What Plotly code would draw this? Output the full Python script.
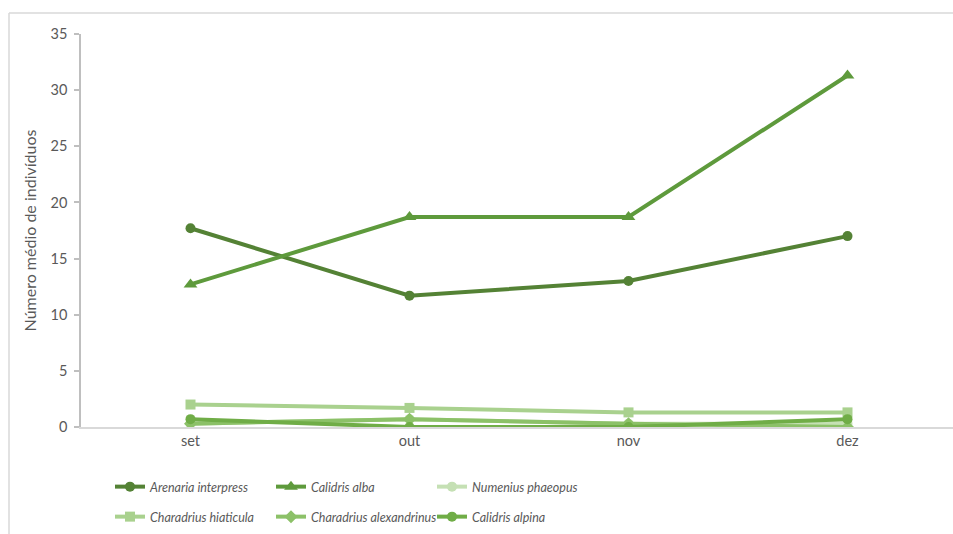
import plotly.graph_objects as go

# Monthly mean counts of shorebirds
months = ["set", "out", "nov", "dez"]
arenaria_interpress = [17.7, 11.7, 13.0, 17.0]
calidris_alba = [12.7, 18.7, 18.7, 31.3]
numenius_phaeopus = [0.3, 0.7, 0.3, 0.3]
charadrius_hiaticula = [2.0, 1.7, 1.3, 1.3]
charadrius_alexandrinus = [0.3, 0.7, 0.3, 0.0]
calidris_alpina = [0.7, 0.0, 0.0, 0.7]

y_ticks = [0, 5, 10, 15, 20, 25, 30, 35]

series = [
    ("Arenaria interpress", arenaria_interpress, "#548235", "circle", 10, "legend"),
    ("Calidris alba", calidris_alba, "#5E9A3C", "triangle-up", 12, "legend"),
    ("Numenius phaeopus", numenius_phaeopus, "#C5E0B4", "circle", 10, "legend"),
    ("Charadrius hiaticula", charadrius_hiaticula, "#A9D18E", "square", 10, "legend2"),
    ("Charadrius alexandrinus", charadrius_alexandrinus, "#8CC168", "diamond", 10, "legend2"),
    ("Calidris alpina", calidris_alpina, "#70AD47", "circle", 10, "legend2"),
]

W, H = 953, 534
L, R, T, B = 81, 0, 34, 107
plot_w = W - L - R
plot_h = H - T - B

fig = go.Figure()
# draw light series first so the dark ones sit on top
draw_order = [3, 2, 4, 5, 0, 1]
for i in draw_order:
    name, vals, color, symbol, msize, leg = series[i]
    fig.add_trace(go.Scatter(
        x=months, y=vals, name=name, mode="lines+markers",
        line=dict(color=color, width=4),
        marker=dict(color=color, symbol=symbol, size=msize,
                    line=dict(width=0)),
        legend=leg, legendrank=i,
    ))

# category bands of width 1 centred on each month; axis runs off the right edge
band_px = 219
x_end = 3.5 - (L + 4 * band_px - W) / band_px

base_family = "Lato, Liberation Sans, Arial"
legend_font = dict(family=base_family, size=12.5, color="#595959", style="italic")

def px_to_paper_x(px):
    return (px - L) / plot_w

def px_to_paper_y(py):
    return (H - B - py) / plot_h

legend_common = dict(
    orientation="h", xanchor="left", yanchor="middle",
    entrywidth=116, entrywidthmode="pixels",
    font=legend_font, bgcolor="rgba(0,0,0,0)", itemwidth=30,
    traceorder="normal",
)

fig.update_layout(
    width=W, height=H,
    margin=dict(l=L, r=R, t=T, b=B),
    paper_bgcolor="white", plot_bgcolor="white",
    font=dict(family=base_family, color="#595959", size=14),
    xaxis=dict(
        range=[-0.5, x_end], showgrid=False, zeroline=False,
        showline=True, linecolor="#d9d9d9", linewidth=1.5,
        ticks="", tickfont=dict(size=14.5, color="#595959"),
        fixedrange=True,
    ),
    yaxis=dict(
        range=[0, 35], tickvals=y_ticks, showgrid=False, zeroline=False,
        showline=True, linecolor="#bfbfbf", linewidth=1.5,
        ticks="outside", ticklen=5, tickcolor="#bfbfbf", tickwidth=1.5,
        ticklabelstandoff=4,
        tickfont=dict(size=14.5, color="#595959"),
        title=dict(text="Número médio de indivíduos", standoff=10,
                   font=dict(size=16, color="#595959")),
        fixedrange=True,
    ),
    legend=dict(x=px_to_paper_x(110), y=px_to_paper_y(487), **legend_common),
    legend2=dict(x=px_to_paper_x(110), y=px_to_paper_y(517), **legend_common),
    showlegend=True,
)

# chart frame (top and left edges visible)
fig.add_shape(type="line", xref="paper", yref="paper",
              x0=px_to_paper_x(9), x1=px_to_paper_x(W + 5),
              y0=px_to_paper_y(13), y1=px_to_paper_y(13),
              line=dict(color="#d9d9d9", width=1.5))
fig.add_shape(type="line", xref="paper", yref="paper",
              x0=px_to_paper_x(9), x1=px_to_paper_x(9),
              y0=px_to_paper_y(13), y1=px_to_paper_y(H + 5),
              line=dict(color="#d9d9d9", width=1.5))

fig.write_html("out.html")
